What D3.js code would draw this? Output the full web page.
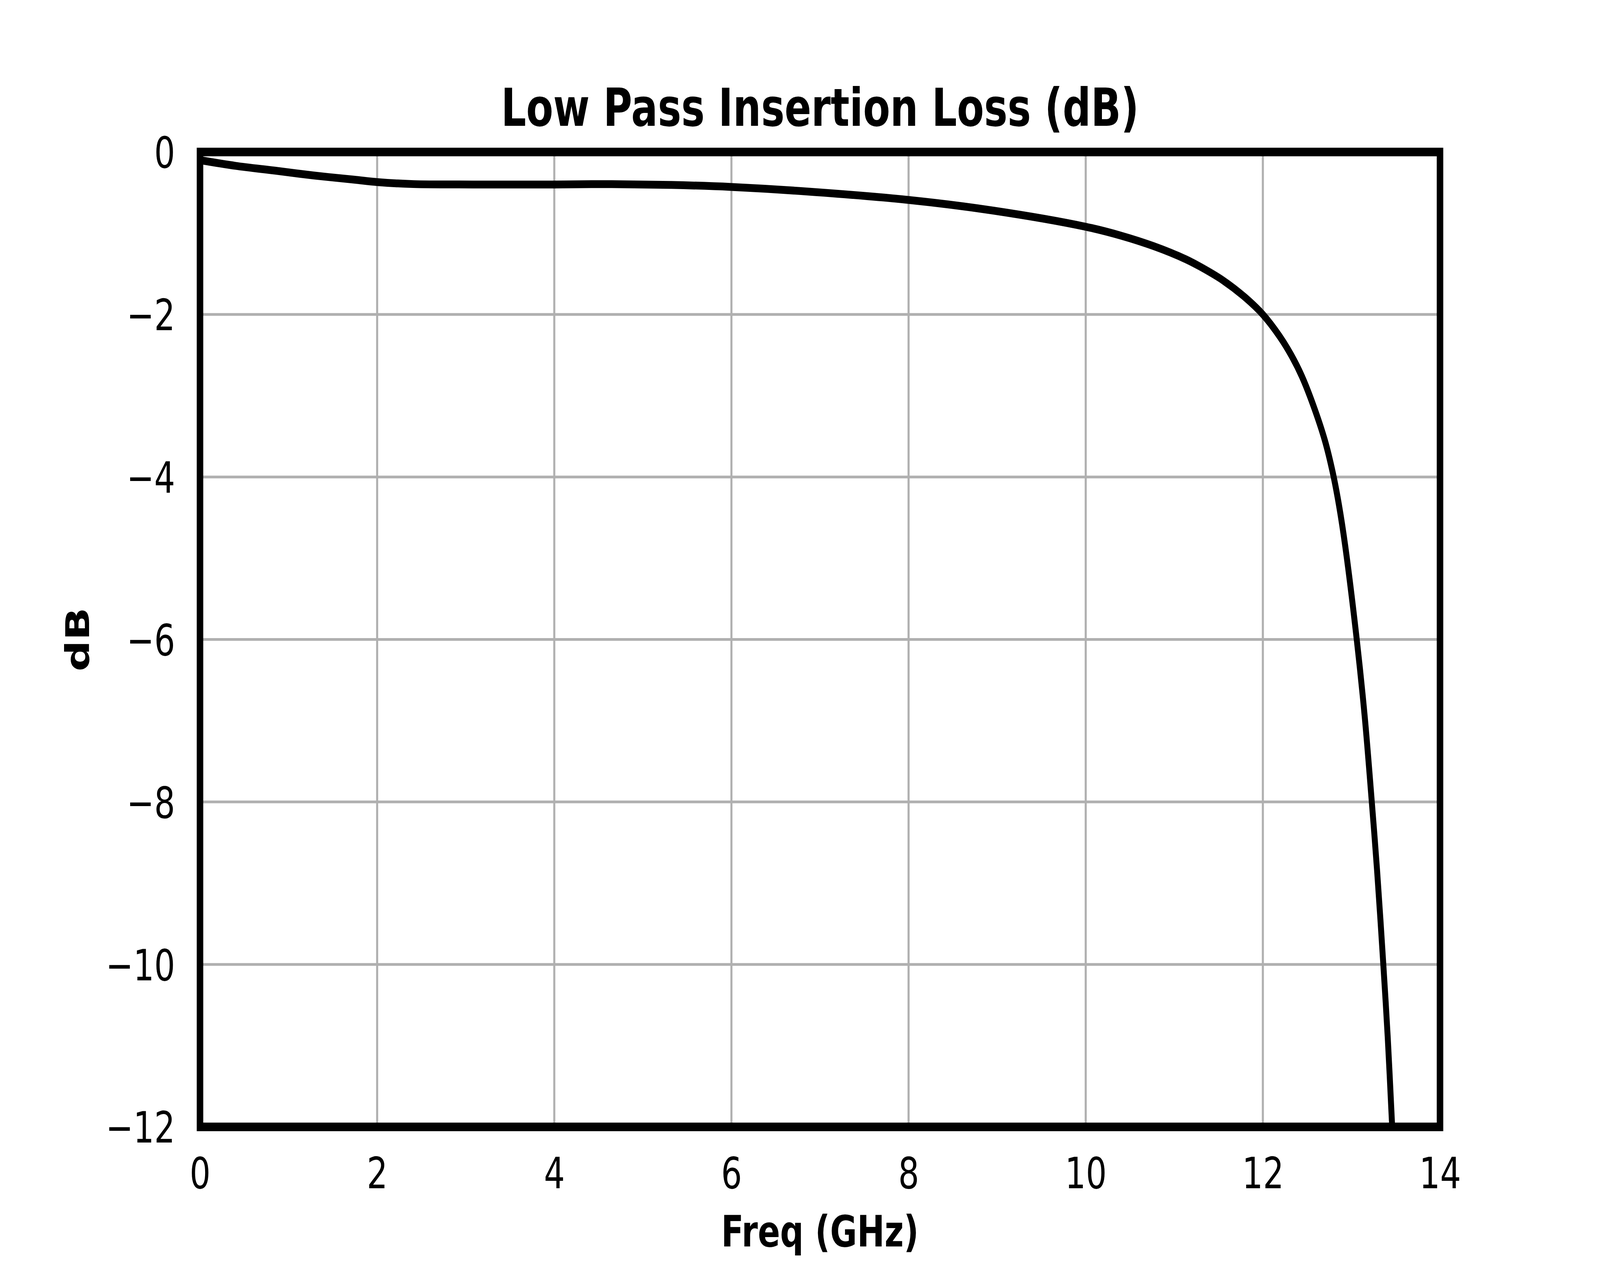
<!DOCTYPE html>
<html>
<head>
<meta charset="utf-8">
<script src="https://cdn.jsdelivr.net/npm/d3@7"></script>
<style>
    html, body { margin: 0; padding: 0; background: #ffffff; overflow: hidden; }
    #chart svg { display: block; width: 100vw; height: 100vh; }
    text { font-family: "DejaVu Sans", sans-serif; fill: #000000; }
    .grid-line { stroke: #b0b0b0; stroke-width: 7; }
    .tick-label { font-size: 111px; }
    .axis-label { font-size: 111px; font-weight: bold; }
    .chart-title { font-size: 133px; font-weight: bold; }
</style>
</head>
<body>
<div id="chart"></div>
<script>
/* Low pass insertion loss curve */

const freqGHz = [0, 0.4, 0.85, 1.29, 1.74, 2.0, 2.41, 3.08, 4.0, 4.65, 5.32, 6.0, 6.77, 8.0, 8.95,
    10.0, 10.4, 10.77, 11.13, 11.29, 11.55, 11.8, 12.0, 12.19, 12.32, 12.44, 12.57, 12.7, 12.79,
    12.86, 12.93, 13.06, 13.15, 13.23, 13.29, 13.36, 13.41, 13.46];
const lossDb = [-0.10, -0.17, -0.23, -0.29, -0.34, -0.37, -0.395, -0.40, -0.40, -0.395, -0.405, -0.43, -0.48, -0.59, -0.72,
    -0.92, -1.03, -1.16, -1.32, -1.41, -1.58, -1.79, -2.0, -2.27, -2.50, -2.76, -3.12, -3.55, -3.95,
    -4.35, -4.85, -6.0, -6.95, -8.0, -8.85, -10.0, -10.9, -12.0];

const xTicks = [0, 2, 4, 6, 8, 10, 12, 14];
const yTicks = [0, -2, -4, -6, -8, -10, -12];

const chartTitle = "Low Pass Insertion Loss (dB)";
const xLabel = "Freq (GHz)";
const yLabel = "dB";

function createLossChart(containerId) {
    const fullWidth = 5400;
    const fullHeight = 3240;
    const margin = { top: 389, right: 540, bottom: 356, left: 675 };
    const width = fullWidth - margin.left - margin.right;
    const height = fullHeight - margin.top - margin.bottom;

    const container = d3.select(`#${containerId}`);
    container.selectAll("*").remove();

    // the window can be narrower than 5400, so the 5400x3240 drawing is fitted to it
    const svg = container.append("svg")
        .attr("viewBox", `0 0 ${fullWidth} ${fullHeight}`)
        .attr("preserveAspectRatio", "none");

    svg.append("rect")
        .attr("width", fullWidth)
        .attr("height", fullHeight)
        .attr("fill", "#ffffff");

    const g = svg.append("g")
        .attr("transform", `translate(${margin.left},${margin.top})`);

    const x = d3.scaleLinear().domain([0, 14]).range([0, width]);
    const y = d3.scaleLinear().domain([-12, 0]).range([height, 0]);

    const data = freqGHz.map((f, i) => ({ f: f, db: lossDb[i] }));

    // GRID LINES
    g.selectAll(".grid-x")
        .data(xTicks)
        .enter()
        .append("line")
        .attr("class", "grid-line")
        .attr("x1", d => x(d))
        .attr("x2", d => x(d))
        .attr("y1", 0)
        .attr("y2", height);

    g.selectAll(".grid-y")
        .data(yTicks)
        .enter()
        .append("line")
        .attr("class", "grid-line")
        .attr("x1", 0)
        .attr("x2", width)
        .attr("y1", d => y(d))
        .attr("y2", d => y(d));

    // CURVE
    g.append("clipPath")
        .attr("id", "plot-clip")
        .append("rect")
        .attr("width", width)
        .attr("height", height);

    const line = d3.line()
        .x(d => x(d.f))
        .y(d => y(d.db))
        .curve(d3.curveCatmullRom.alpha(0.5));

    g.append("path")
        .datum(data)
        .attr("clip-path", "url(#plot-clip)")
        .attr("fill", "none")
        .attr("stroke", "#000000")
        .attr("stroke-width", 20)
        .attr("stroke-linejoin", "round")
        .attr("d", line);

    // FRAME
    g.append("rect")
        .attr("width", width)
        .attr("height", height)
        .attr("fill", "none")
        .attr("stroke", "#000000")
        .attr("stroke-width", 22);

    // AXES
    const xAxis = g.append("g")
        .attr("transform", `translate(0,${height})`)
        .call(d3.axisBottom(x).tickValues(xTicks).tickSize(0).tickPadding(78).tickFormat(d3.format("d")));

    const yAxis = g.append("g")
        .call(d3.axisLeft(y).tickValues(yTicks).tickSize(0).tickPadding(84).tickFormat(d3.format("d")));

    [xAxis, yAxis].forEach(ax => {
        ax.select(".domain").remove();
        ax.attr("font-family", null).attr("font-size", null);
        ax.selectAll("text").attr("class", "tick-label");
    });
    yAxis.selectAll("text").attr("dy", "0.36em");

    // LABELS
    svg.append("text")
        .attr("class", "chart-title")
        .attr("x", margin.left + width / 2)
        .attr("y", 322)
        .attr("text-anchor", "middle")
        .text(chartTitle);

    svg.append("text")
        .attr("class", "axis-label")
        .attr("x", margin.left + width / 2)
        .attr("y", 3190)
        .attr("text-anchor", "middle")
        .text(xLabel);

    svg.append("text")
        .attr("class", "axis-label")
        .attr("transform", `translate(301,${margin.top + height / 2}) rotate(-90)`)
        .attr("text-anchor", "middle")
        .text(yLabel);
}

createLossChart("chart");
</script>
</body>
</html>
